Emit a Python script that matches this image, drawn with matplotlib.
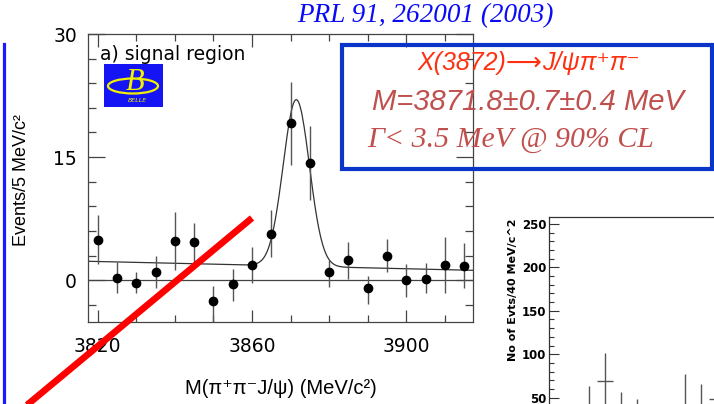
import matplotlib.pyplot as plt
import numpy as np
from matplotlib.patches import Rectangle, Ellipse
from matplotlib.lines import Line2D
from matplotlib.ticker import MultipleLocator

# a) signal region, 5 MeV bins
mass = [3820, 3825, 3830, 3835, 3840, 3845, 3850, 3855, 3860, 3865,
        3870, 3875, 3880, 3885, 3890, 3895, 3900, 3905, 3910, 3915]
events = [4.9, 0.3, -0.3, 1.0, 4.8, 4.6, -2.5, -0.5, 1.9, 5.6,
          19.1, 14.3, 1.0, 2.4, -1.0, 3.0, 0.0, 0.2, 1.8, 1.7]
err_dn = [2.9, 1.9, 1.3, 2.0, 3.6, 2.5, 2.6, 2.1, 2.3, 2.8,
          5.1, 4.5, 1.8, 2.3, 1.9, 2.0, 2.0, 1.8, 3.4, 2.7]
err_up = [3.0, 1.9, 1.3, 2.0, 3.5, 2.4, 1.8, 1.9, 2.2, 2.9,
          5.1, 4.5, 1.4, 2.2, 1.5, 2.0, 2.0, 1.9, 3.4, 2.8]

# fit result: gaussian + linear background
fit_mass = 3871.5
fit_sigma = 3.4
fit_height = 20.3
bkg_left, bkg_right = 2.3, 1.2

# second (cut off) histogram, 40 MeV bins
bins2 = [2.5, 3.5, 4.5, 5.5, 6.5, 7.5, 8.5, 9.5, 10.5]
evts2 = [38, 69, 33, 27, 15, 20, 40, 38, 49]
err2 = [25.5, 32, 23, 21.5, 20, 22, 37, 27.5, 25]

W, H = 714, 404
def fx(x):
    return x / W
def fy(y):
    return 1 - y / H

fig = plt.figure(figsize=(7.14, 4.04), dpi=100)

ax = fig.add_axes([fx(88), fy(322), fx(473) - fx(88), fy(34) - fy(322)])
ax.set_xlim(3817.5, 3917.3)
ax.set_ylim(-5.1, 30)

xx = np.linspace(3817.5, 3917.3, 400)
bkg = bkg_left + (bkg_right - bkg_left) * (xx - 3817.5) / (3917.3 - 3817.5)
ax.plot(xx, bkg + fit_height * np.exp(-0.5 * ((xx - fit_mass) / fit_sigma) ** 2),
        color='#333333', lw=0.9)
ax.axhline(0, color='#444444', lw=0.9)
ax.errorbar(mass, events, yerr=[err_dn, err_up], fmt='o', color='black',
            ecolor='#555555', elinewidth=1.0, markersize=6, capsize=0)

ax.set_yticks([0, 15, 30])
ax.set_xticks([3820, 3860, 3900])
ax.yaxis.set_minor_locator(MultipleLocator(3))
ax.xaxis.set_minor_locator(MultipleLocator(10))
ax.tick_params(which='both', direction='in', top=True, right=True, colors='#444444',
               labelcolor='black', labelsize=13.5, width=0.9)
ax.tick_params(axis='y', which='major', length=12, pad=8)
ax.tick_params(axis='y', which='minor', length=6)
ax.tick_params(axis='x', which='major', length=9, pad=11)
ax.tick_params(axis='x', which='minor', length=5)
for lab in ax.get_xticklabels() + ax.get_yticklabels():
    lab.set_family('DejaVu Sans')
for s in ax.spines.values():
    s.set_color('#444444')
    s.set_linewidth(0.9)

fig.text(fx(22), fy(180), 'Events/5 MeV/c²', rotation=90, ha='center', va='center',
         fontsize=13, family=['Liberation Sans', 'DejaVu Sans'])
fig.text(fx(281), fy(388), 'M(π⁺π⁻J/ψ) (MeV/c²)', ha='center', va='center',
         fontsize=14.5, family=['Liberation Sans', 'DejaVu Sans'])
fig.text(fx(100), fy(54), 'a) signal region', ha='left', va='center', fontsize=13.5,
         family='DejaVu Sans')

# Belle logo
fig.patches.append(Rectangle((fx(104), fy(107)), fx(163) - fx(104), fy(64) - fy(107),
                             transform=fig.transFigure, facecolor='#1414f5', edgecolor='none'))
fig.patches.append(Ellipse((fx(133), fy(86)), fx(50), 15 / H, transform=fig.transFigure,
                           facecolor='none', edgecolor='#f0f000', lw=1.6))
fig.text(fx(135), fy(82), 'B', ha='center', va='center', fontsize=22, color='#f0f000',
         style='italic', family='Liberation Serif')
fig.text(fx(137), fy(101), 'BELLE', ha='center', va='center', fontsize=4.5, color='#f0f000',
         style='italic', family='DejaVu Sans')

# title
fig.text(fx(425), fy(16), 'PRL 91, 262001 (2003)', ha='center', va='center', fontsize=19.5,
         color='#0a0af5', style='italic', family='Liberation Serif')

# result box
fig.patches.append(Rectangle((fx(342), fy(169)), fx(712) - fx(342), fy(45) - fy(169),
                             transform=fig.transFigure, facecolor='none',
                             edgecolor='#0b34c8', lw=3))
red = '#ff3010'
t1 = fig.text(fx(417), fy(63), 'X(3872)', ha='left', va='center', fontsize=18,
              color=red, style='italic', family='Liberation Sans')
t2 = ax.annotate('⟶', xy=(1, 0.5), xycoords=t1, ha='left', va='center', fontsize=18,
                 color=red, family='DejaVu Sans', annotation_clip=False)
ax.annotate('J/ψπ⁺π⁻', xy=(1, 0.5), xycoords=t2, ha='left', va='center', fontsize=18,
            color=red, style='italic', family=['Liberation Sans', 'DejaVu Sans'],
            annotation_clip=False)
fig.text(fx(528), fy(102), 'M=3871.8±0.7±0.4 MeV', ha='center', va='center', fontsize=21,
         color='#c0504d', style='italic', family=['Liberation Sans', 'DejaVu Sans'])
fig.text(fx(511), fy(140), 'Γ< 3.5 MeV @ 90% CL', ha='center', va='center', fontsize=21.5,
         color='#c0504d', style='italic', family='Liberation Serif')

# second histogram, partly outside the slide
ax2 = fig.add_axes([fx(549), 0, 0.5, fy(217)])
ax2.errorbar(bins2, evts2, yerr=err2, xerr=0.5, fmt='none', ecolor='#555555', elinewidth=1.0)
ax2.set_xlim(0, 357 / 16)
ax2.set_ylim(42.7, 258)
ax2.set_yticks([50, 100, 150, 200, 250])
ax2.yaxis.set_minor_locator(MultipleLocator(10))
ax2.set_xticks([])
ax2.spines['bottom'].set_visible(False)
ax2.spines['right'].set_visible(False)
for s in ax2.spines.values():
    s.set_color('#333333')
    s.set_linewidth(0.9)
ax2.tick_params(which='both', direction='in', colors='#333333', labelcolor='black',
                labelsize=8.5, width=0.8)
ax2.tick_params(which='major', length=7, pad=2)
ax2.tick_params(which='minor', length=3.5)
for lab in ax2.get_yticklabels():
    lab.set_fontweight('bold')
ax2.set_ylabel('No of Evts/40 MeV/c^2', fontsize=8, fontweight='bold')
ax2.yaxis.set_label_coords(-31 / 357, 1 - (290 - 217) / 187)

# blue bar on the left edge and red slash
fig.lines.append(Line2D([fx(4), fx(4)], [fy(44), fy(404)], transform=fig.transFigure,
                        color='#1a1aff', lw=2.3))
fig.lines.append(Line2D([fx(27), fx(252)], [fy(405), fy(218)], transform=fig.transFigure,
                        color='#ff0000', lw=4.8, solid_capstyle='butt', zorder=10))

plt.savefig('out.png', dpi=100)
